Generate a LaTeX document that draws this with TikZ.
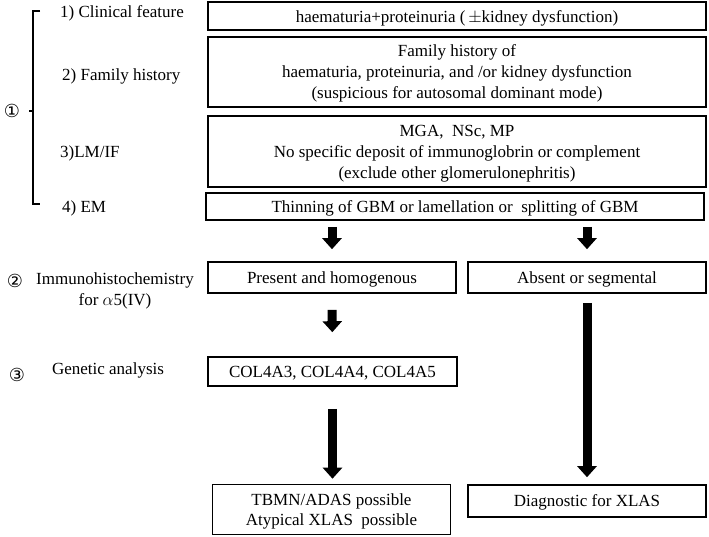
\documentclass[tikz,border=0pt]{standalone}
\usepackage{fontspec}
\setmainfont{Liberation Serif}
\newfontfamily\circfont{DejaVu Sans}
\usetikzlibrary{arrows.meta}
\begin{document}
\begin{tikzpicture}[x=1pt,y=-1pt,
  box/.style={draw,line width=1.3pt,align=center,inner sep=0pt,font=\fontsize{17}{21}\selectfont},
  one/.style={text height=12pt,text depth=#1},
  lbl/.style={inner sep=0pt,font=\fontsize{17}{20.5}\selectfont,align=center},
  circ/.style={inner sep=0pt,font=\circfont\fontsize{18}{20}\selectfont},
  blk/.style={line width=9pt,-{Triangle[width=19pt,length=11pt]}},
]
\useasboundingbox (0,0) rectangle (709,536);
% boxes
\node[box,one=0pt,minimum width=498pt,minimum height=28pt] (b1) at (457,16) {haematuria+proteinuria (\,$\pm$kidney dysfunction)};
\node[box,text depth=-5pt,minimum width=498pt,minimum height=70pt] (b2) at (457,72) {Family history of\\haematuria, proteinuria, and /or kidney dysfunction\\(suspicious for autosomal dominant mode)};
\node[box,text depth=-5pt,minimum width=498pt,minimum height=71pt] (b3) at (457,151.5) {MGA,~ NSc, MP\\No specific deposit of immunoglobrin or complement\\(exclude other glomerulonephritis)};
\node[box,one=-2pt,line width=1.8pt,minimum width=498pt,minimum height=27pt] (em) at (455,206.5) {Thinning of GBM or lamellation or~ splitting of GBM};
\node[box,one=-2pt,line width=1.6pt,minimum width=248pt,minimum height=31pt] (pres) at (332,277.5) {Present and homogenous};
\node[box,one=-2pt,line width=1.6pt,minimum width=238pt,minimum height=31pt] (abs) at (587,277.5) {Absent or segmental};
\node[box,one=-1pt,line width=1.6pt,minimum width=249pt,minimum height=29pt] (col) at (332.5,371.5) {COL4A3, COL4A4, COL4A5};
\node[box,text depth=-3pt,line width=1.6pt,minimum width=238pt,minimum height=50pt,font=\fontsize{17}{19.5}\selectfont] (tbmn) at (331.5,509.5) {TBMN/ADAS possible\\Atypical XLAS~ possible};
\node[box,one=1pt,line width=1.6pt,minimum width=238pt,minimum height=32pt] (diag) at (587,501) {Diagnostic for XLAS};
% left labels
\node[lbl,anchor=west] (l1) at (60,13) {1) Clinical feature};
\node[lbl,anchor=west] (l2) at (62,76) {2) Family history};
\node[lbl,anchor=west] (l3) at (60,153) {3)LM/IF};
\node[lbl,anchor=west] (l4) at (62,208) {4) EM};
\node[circ] (c1) at (12,111) {①};
\node[circ] (c2) at (15,281) {②};
\node[circ] (c3) at (17,375) {③};
\node[lbl] (ihc) at (115,291) {Immunohistochemistry\\for $\alpha$5(IV)};
\node[lbl] (gen) at (108,370) {Genetic analysis};
% bracket
\draw[line width=1.1pt] (40,11) -- (33,11) -- (33,204) -- (40,204);
\draw[line width=1.1pt] (29,111) -- (33,111);
% arrows
\draw[blk,shorten <=6pt,shorten >=12pt] (em.south -| pres.north) -- (pres.north);
\draw[blk,shorten <=6pt,shorten >=12pt] (em.south -| abs.north) -- (abs.north);
\draw[blk,shorten <=16pt,shorten >=24pt] (pres.south) -- (col.north);
\draw[blk,shorten <=22pt,shorten >=5pt] (col.south) -- (col.south |- tbmn.north);
\draw[blk,shorten <=9pt,shorten >=7pt] (abs.south) -- (diag.north);
\end{tikzpicture}
\end{document}
